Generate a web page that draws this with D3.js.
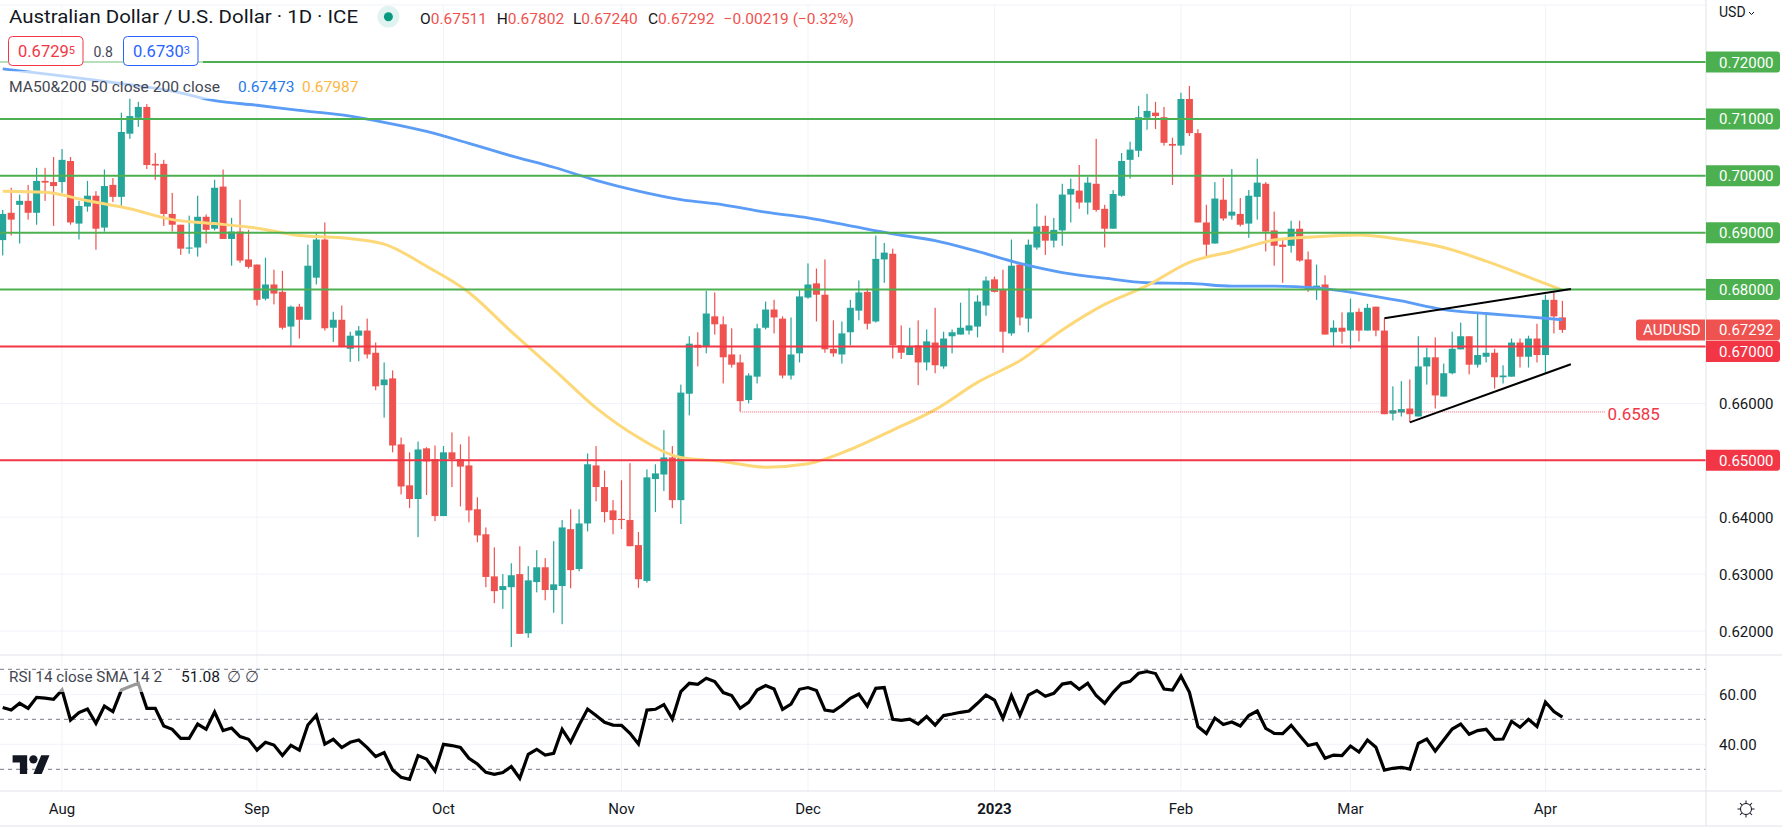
<!DOCTYPE html>
<html>
<head>
<meta charset="utf-8">
<script src="https://cdn.jsdelivr.net/npm/d3@7"></script>
<style>
  html, body { margin: 0; padding: 0; background: #fff; overflow: hidden; }
  text { font-family: Roboto, sans-serif; fill: #131722; }
</style>
</head>
<body>
<svg id="chart"></svg>
<script>
// daily AUDUSD candles, prices in 1/10000
const opens = [6887,6935,6949,6956,6935,6991,6989,6989,7026,6916,
  6946,6965,6909,6984,6963,7074,7102,7121,7021,7021,
  6933,6914,6872,6874,6928,6907,6981,6889,6902,6853,
  6844,6784,6809,6796,6735,6770,6747,6821,6888,6733,
  6747,6696,6719,6728,6689,6632,6644,6528,6456,6432,
  6521,6502,6402,6514,6502,6491,6414,6370,6296,6272,
  6277,6300,6196,6286,6312,6272,6279,6379,6309,6389,
  6491,6453,6412,6397,6395,6351,6288,6467,6475,6505,
  6430,6617,6703,6700,6753,6739,6686,6672,6606,6647,
  6733,6765,6749,6649,6688,6786,6811,6791,6696,6686,
  6725,6763,6796,6744,6853,6863,6702,6685,6702,6672,
  6707,6665,6718,6721,6728,6735,6772,6818,6800,6723,
  6844,6749,6874,6912,6886,6904,6967,6974,6953,6986,
  6942,6907,6965,7028,7044,7102,7111,7103,7056,7053,
  7135,7075,6918,6881,6958,6930,6933,6916,6963,6986,
  6904,6879,6877,6907,6853,6800,6809,6725,6733,6728,
  6761,6728,6770,6728,6582,6584,6591,6577,6665,6681,
  6612,6653,6695,6718,6668,6682,6689,6646,6647,6707,
  6682,6714,6685,6782,6751.1];
const highs = [6940,6979,6967,6984,7014,7014,7033,7047,7033,6956,
  6991,6973,7011,6996,7111,7136,7130,7126,7040,7028,
  6970,6914,6930,6965,6932,6993,7011,6926,6958,6905,
  6844,6856,6835,6833,6772,6775,6879,6899,6918,6761,
  6772,6726,6736,6749,6707,6672,6658,6540,6514,6533,
  6523,6526,6525,6549,6528,6542,6435,6382,6347,6300,
  6319,6349,6314,6342,6328,6358,6395,6414,6414,6512,
  6525,6482,6430,6465,6495,6374,6484,6493,6553,6525,
  6633,6718,6725,6798,6795,6753,6732,6686,6653,6740,
  6779,6782,6753,6751,6800,6846,6837,6853,6746,6744,
  6782,6816,6802,6895,6882,6872,6737,6733,6746,6730,
  6768,6726,6730,6777,6802,6790,6823,6823,6835,6888,
  6847,6888,6951,6930,6926,6986,6995,7019,6998,7065,
  6949,6975,7040,7060,7123,7144,7130,7121,7067,7146,
  7158,7082,6949,6989,6996,7012,6961,6975,7030,6989,
  6937,6889,6921,6921,6867,6844,6825,6746,6760,6784,
  6767,6775,6770,6749,6630,6639,6642,6718,6698,6716,
  6670,6726,6742,6718,6760,6756,6696,6667,6714,6714,
  6719,6740,6791,6795,6780.2];
const lows = [6860,6895,6881,6923,6914,6956,6912,6970,6914,6888,
  6937,6870,6902,6954,6947,7065,7086,7012,6993,6912,
  6902,6861,6863,6858,6881,6904,6889,6842,6847,6837,
  6772,6781,6774,6730,6701,6714,6747,6809,6728,6708,
  6699,6673,6674,6679,6623,6575,6514,6440,6416,6365,
  6439,6393,6402,6453,6419,6391,6356,6277,6249,6239,
  6172,6195,6188,6268,6254,6232,6212,6275,6305,6375,
  6428,6391,6370,6379,6349,6276,6285,6409,6446,6416,
  6388,6579,6665,6688,6721,6635,6663,6586,6600,6635,
  6730,6723,6644,6642,6672,6784,6744,6689,6682,6670,
  6702,6746,6730,6742,6812,6679,6678,6685,6632,6658,
  6653,6661,6688,6721,6721,6716,6754,6795,6689,6719,
  6737,6725,6870,6861,6874,6877,6918,6942,6932,6937,
  6874,6907,6963,6995,7033,7081,7082,7053,6984,7037,
  7070,6918,6856,6881,6921,6923,6911,6891,6923,6867,
  6842,6812,6865,6849,6796,6782,6721,6700,6705,6696,
  6709,6728,6718,6581,6570,6577,6567,6577,6633,6591,
  6612,6651,6695,6651,6663,6672,6626,6635,6647,6663,
  6663,6672,6653,6723,6724];
const closes = [6933,6923,6956,6935,6991,6988,6982,7028,6918,6947,
  6965,6907,6982,6963,7077,7105,7121,7019,7018,6933,
  6914,6872,6874,6928,6905,6979,6889,6902,6851,6840,
  6782,6809,6793,6733,6770,6747,6842,6888,6732,6747,
  6699,6719,6728,6686,6630,6642,6526,6454,6432,6519,
  6498,6402,6514,6502,6489,6412,6368,6295,6270,6279,
  6298,6195,6289,6312,6272,6282,6382,6307,6389,6493,
  6453,6409,6395,6395,6349,6291,6470,6477,6505,6430,
  6619,6705,6698,6758,6739,6681,6668,6604,6649,6732,
  6765,6751,6649,6686,6788,6809,6791,6695,6688,6723,
  6768,6795,6740,6854,6865,6702,6689,6700,6672,6709,
  6667,6714,6725,6733,6737,6779,6816,6796,6726,6842,
  6751,6879,6911,6886,6905,6967,6977,6953,6988,6940,
  6907,6968,7026,7046,7103,7114,7105,7058,7053,7135,
  7075,6918,6879,6960,6925,6937,6914,6965,6988,6902,
  6877,6875,6907,6851,6800,6807,6721,6733,6726,6760,
  6728,6768,6728,6581,6588,6590,6581,6665,6681,6614,
  6653,6696,6718,6668,6685,6689,6646,6649,6707,6682,
  6714,6685,6782,6753,6729.2];

// moving averages, read every 5th bar plus the last one
const maBars = [...d3.range(0, 185, 5), 184];
const ma200 = [7188,7179,7170,7160,7149,7132,7124,7115,7107,7094,7078,7057,7035,7015,6992,
  6973,6958,6949,6936,6926,6912,6898,6886,6867,6846,6830,6820,6812,6811,
  6806,6806,6803,6793,6780,6765,6758,6752,6747];
const ma50 = [6973,6971,6956,6942,6923,6916,6908,6895,6891,6880,6841,6795,6726,6660,6592,
  6540,6505,6498,6488,6494,6519,6553,6589,6637,6675,6729,6774,6807,6848,
  6867,6887,6893,6896,6888,6874,6850,6822,6799];

const rsi = [54.7,53.7,56.4,54.4,58.8,58.5,58.0,61.7,49.7,52.7,54.1,48.4,55.3,53.1,61.7,63.1,64.4,54.4,54.4,47.3,
  46.0,42.4,42.4,48.1,46.0,52.9,45.5,46.5,43.1,42.0,37.7,40.8,39.7,35.5,39.6,37.7,47.7,51.6,40.1,42.0,
  38.7,40.8,41.7,38.7,35.1,36.7,29.7,26.8,26.0,35.5,34.1,29.3,40.0,39.5,38.7,34.4,32.1,28.8,28.0,28.7,
  31.1,26.4,36.0,38.0,35.7,36.4,46.0,40.8,47.7,54.1,51.5,48.8,47.7,47.6,44.4,40.1,53.7,54.0,55.9,50.1,
  61.1,64.4,64.0,66.4,65.1,60.7,59.5,54.4,56.8,61.7,63.5,62.1,54.0,56.1,62.0,62.7,61.5,53.7,53.2,55.5,
  58.4,60.1,55.3,62.4,62.7,50.0,49.6,50.1,48.1,51.1,47.7,51.5,52.1,52.8,53.3,56.4,59.7,57.7,50.4,59.5,
  51.6,59.7,61.5,59.2,60.4,64.1,64.7,62.0,64.4,59.5,56.4,60.8,64.3,65.2,68.4,69.1,68.3,62.1,61.7,67.3,
  60.8,47.1,44.3,50.5,47.9,48.9,47.3,51.5,53.3,46.4,44.4,44.3,47.6,43.5,39.5,40.3,34.4,35.7,35.5,39.3,
  36.9,41.7,38.8,29.7,30.4,30.8,30.1,40.4,42.1,37.3,41.7,46.1,48.1,44.0,45.5,46.0,42.0,42.1,49.2,46.8,
  50.0,47.1,56.9,53.1,50.9];

// axis and level values
const priceTicks = [6200,6300,6400,6500,6600,6700,6800,6900,7000,7100,7200];
const plainPriceLabels = [6200,6300,6400,6600];
const greenLevels = [7200,7100,7000,6900,6800];
const redLevels = [6700,6500];
const rsiDashed = [70,50,30];
const rsiGrid = [60,40];
const monthBars = [7,30,52,73,95,117,139,159,182];
const monthLabels = ['Aug','Sep','Oct','Nov','Dec','2023','Feb','Mar','Apr'];
const supportLevel = 6585;
const lastClose = 6729.2;
const wedgeUpper = [[163,6749.6],[185,6801.2]];
const wedgeLower = [[166,6566.7],[185,6668.9]];

const W = 1782, H = 827;
const axisX = 1706, mainTop = 5, mainBottom = 655, rsiBottom = 791;
const GREEN = '#26a69a', RED = '#ef5350', LVL_GREEN = '#4caf50', LVL_RED = '#f23645';

const svg = d3.select('#chart').attr('width', W).attr('height', H);

const x = d3.scaleLinear().domain([0, 184]).range([2.7, 1562.4]);
const y = d3.scaleLinear().domain([6200, 7200]).range([631, 62]);
const yRsi = d3.scaleLinear().domain([30, 70]).range([769.3, 669.3]);

svg.append('defs').append('clipPath').attr('id', 'mainClip')
  .append('rect').attr('x', 0).attr('y', mainTop).attr('width', axisX).attr('height', mainBottom - mainTop);

// frame and grid
const grid = svg.append('g').attr('stroke', '#f0f3fa').attr('stroke-width', 1);
grid.selectAll('.vg').data(monthBars).enter().append('line')
  .attr('x1', d => x(d)).attr('x2', d => x(d)).attr('y1', mainTop).attr('y2', rsiBottom);
grid.selectAll('.hg').data(priceTicks).enter().append('line')
  .attr('x1', 0).attr('x2', axisX).attr('y1', d => y(d)).attr('y2', d => y(d));
grid.selectAll('.rg').data(rsiGrid).enter().append('line')
  .attr('x1', 0).attr('x2', axisX).attr('y1', d => yRsi(d)).attr('y2', d => yRsi(d));
grid.append('line').attr('x1', 0).attr('x2', axisX).attr('y1', mainTop).attr('y2', mainTop);

const main = svg.append('g').attr('clip-path', 'url(#mainClip)');

// candles
const bars = d3.range(opens.length);
const candle = main.append('g').selectAll('g').data(bars).enter().append('g')
  .attr('fill', i => closes[i] >= opens[i] ? GREEN : RED);
candle.append('rect')
  .attr('x', i => x(i) - 0.6).attr('width', 1.2)
  .attr('y', i => y(highs[i])).attr('height', i => y(lows[i]) - y(highs[i]));
candle.append('rect')
  .attr('x', i => x(i) - 3.5).attr('width', 7)
  .attr('y', i => y(Math.max(opens[i], closes[i])))
  .attr('height', i => Math.max(1, Math.abs(y(opens[i]) - y(closes[i]))));

// moving averages
const maLine = vals => d3.line().curve(d3.curveMonotoneX).x((d, k) => x(maBars[k])).y(d => y(d))(vals);
main.append('path').attr('d', maLine(ma200)).attr('fill', 'none').attr('stroke', '#5b9cf6').attr('stroke-width', 2.8);
main.append('path').attr('d', maLine(ma50)).attr('fill', 'none').attr('stroke', '#fdd878').attr('stroke-width', 3);

// support dots
main.append('line')
  .attr('x1', x(87)).attr('x2', 1605)
  .attr('y1', y(supportLevel)).attr('y2', y(supportLevel))
  .attr('stroke', LVL_RED).attr('stroke-width', 1).attr('stroke-dasharray', '1 1').attr('opacity', 0.75);

// price levels
main.selectAll('.lvl').data(greenLevels.concat(redLevels)).enter().append('line')
  .attr('x1', 0).attr('x2', axisX)
  .attr('y1', d => y(d)).attr('y2', d => y(d))
  .attr('stroke', d => d > 6750 ? LVL_GREEN : LVL_RED).attr('stroke-width', 2);

// wedge
[wedgeUpper, wedgeLower].forEach(seg => {
  main.append('path')
    .attr('d', d3.line().x(d => x(d[0])).y(d => y(d[1]))(seg))
    .attr('fill', 'none').attr('stroke', '#000').attr('stroke-width', 2);
});

svg.append('text').attr('x', 1607.6).attr('y', 420).attr('font-size', 17).style('fill', LVL_RED).text('0.6585');

// rsi pane
const rsiG = svg.append('g');
rsiG.selectAll('line').data(rsiDashed).enter().append('line')
  .attr('x1', 0).attr('x2', axisX).attr('y1', d => yRsi(d)).attr('y2', d => yRsi(d))
  .attr('stroke', '#787b86').attr('stroke-width', 1).attr('stroke-dasharray', '4 4');
rsiG.append('path')
  .attr('d', d3.line().x((d, i) => x(i)).y(d => yRsi(d))(rsi))
  .attr('fill', 'none').attr('stroke', '#000').attr('stroke-width', 3.2).attr('stroke-linejoin', 'miter');

// pane borders
const border = svg.append('g').attr('stroke', '#e0e3eb').attr('stroke-width', 1);
border.append('line').attr('x1', 0).attr('x2', W).attr('y1', mainBottom).attr('y2', mainBottom);
border.append('line').attr('x1', 0).attr('x2', W).attr('y1', rsiBottom).attr('y2', rsiBottom);
border.append('line').attr('x1', 0).attr('x2', W).attr('y1', 826).attr('y2', 826);
border.append('line').attr('x1', axisX).attr('x2', axisX).attr('y1', 0).attr('y2', 826);

// right axis labels
const badge = (cy, fill, label) => {
  svg.append('path')
    .attr('d', `M${axisX} ${cy - 10.5}H1777a3 3 0 0 1 3 3V${cy + 7.5}a3 3 0 0 1 -3 3H${axisX}Z`)
    .attr('fill', fill);
  svg.append('text').attr('x', 1719).attr('y', cy + 5.5).attr('font-size', 15).style('fill', '#fff').text(label);
};
const fmt = d3.format('.5f');
greenLevels.forEach(d => badge(y(d), LVL_GREEN, fmt(d / 1e4)));
badge(y(6500), LVL_RED, fmt(0.65));
badge(351.5, LVL_RED, fmt(0.67));
badge(y(lastClose), RED, fmt(0.67292));
svg.append('path').attr('d', `M1639 ${y(lastClose) - 10.5}H1705V${y(lastClose) + 10.5}H1639a3 3 0 0 1 -3 -3V${y(lastClose) - 7.5}a3 3 0 0 1 3 -3Z`).attr('fill', RED);
svg.append('text').attr('x', 1643).attr('y', y(lastClose) + 5.5).attr('font-size', 15).style('fill', '#fff').text('AUDUSD');

svg.selectAll('.pl').data(plainPriceLabels).enter().append('text')
  .attr('x', 1719).attr('y', d => y(d) + 5.5).attr('font-size', 15).text(d => fmt(d / 1e4));

rsiGrid.forEach(d => {
  svg.append('text').attr('x', 1719).attr('y', yRsi(d) + 5.5).attr('font-size', 15).text(d3.format('.2f')(d));
});

svg.append('text').attr('x', 1719).attr('y', 17).attr('font-size', 14).text('USD');
svg.append('path').attr('d', 'M1749 12l2.5 2.5l2.5 -2.5').attr('fill', 'none').attr('stroke', '#131722');

// time axis
svg.selectAll('.month').data(monthBars).enter().append('text')
  .attr('x', d => x(d)).attr('y', 814).attr('text-anchor', 'middle').attr('font-size', 15)
  .attr('font-weight', (d, i) => monthLabels[i] === '2023' ? 700 : 400)
  .text((d, i) => monthLabels[i]);

// legend backdrops
const backdrop = (bx, by, bw, bh) => svg.append('rect')
  .attr('x', bx).attr('y', by).attr('width', bw).attr('height', bh).attr('fill', '#fff').attr('opacity', 0.6);
backdrop(0, 35, 203, 32);
backdrop(0, 71, 220, 28);
backdrop(0, 670, 166, 22);

// header
svg.append('text').attr('x', 9).attr('y', 23).attr('font-size', 18)
  .attr('textLength', 349).attr('lengthAdjust', 'spacingAndGlyphs')
  .text('Australian Dollar / U.S. Dollar · 1D · ICE');
svg.append('circle').attr('cx', 388.4).attr('cy', 16.7).attr('r', 11).attr('fill', '#089981').attr('opacity', 0.12);
svg.append('circle').attr('cx', 388.4).attr('cy', 16.7).attr('r', 4.5).attr('fill', '#089981');

const ohlc = [['O', '0.67511', 420], ['H', '0.67802', 496.7], ['L', '0.67240', 573], ['C', '0.67292', 648]];
ohlc.forEach(([k, v, px]) => {
  const t = svg.append('text').attr('x', px).attr('y', 24).attr('font-size', 15.5);
  t.append('tspan').text(k);
  t.append('tspan').style('fill', RED).text(v);
});
svg.append('text').attr('x', 723.6).attr('y', 24).attr('font-size', 15.5).style('fill', RED).text('−0.00219 (−0.32%)');

// bid / ask boxes
const quoteBox = (bx, color, main5, small) => {
  svg.append('rect').attr('x', bx).attr('y', 36.5).attr('width', 74.5).attr('height', 29).attr('rx', 4)
    .attr('fill', '#fff').attr('stroke', color).attr('stroke-width', 1);
  const t = svg.append('text').attr('x', bx + 9.5).attr('y', 57).attr('font-size', 16.5).style('fill', color);
  t.append('tspan').text(main5);
  t.append('tspan').attr('font-size', 11).attr('dy', -3).text(small);
};
quoteBox(8.5, LVL_RED, '0.6729', '5');
quoteBox(123.5, '#2962ff', '0.6730', '3');
svg.append('text').attr('x', 93.5).attr('y', 57).attr('font-size', 14).style('fill', '#434651').text('0.8');

// indicator legends
svg.append('text').attr('x', 9).attr('y', 92).attr('font-size', 15.5).style('fill', '#434651')
  .attr('textLength', 211).attr('lengthAdjust', 'spacingAndGlyphs').text('MA50&200 50 close 200 close');
svg.append('text').attr('x', 238).attr('y', 92).attr('font-size', 15.5).style('fill', '#2979e8').text('0.67473');
svg.append('text').attr('x', 302).attr('y', 92).attr('font-size', 15.5).style('fill', '#fbb73f').text('0.67987');
svg.append('text').attr('x', 9).attr('y', 682).attr('font-size', 15.5).style('fill', '#434651')
  .attr('textLength', 153).attr('lengthAdjust', 'spacingAndGlyphs').text('RSI 14 close SMA 14 2');
svg.append('text').attr('x', 181).attr('y', 682).attr('font-size', 15.5).text('51.08');
svg.append('text').attr('x', 227).attr('y', 682).attr('font-size', 16).style('fill', '#434651').text('∅');
svg.append('text').attr('x', 245).attr('y', 682).attr('font-size', 16).style('fill', '#434651').text('∅');

// tradingview mark
const logo = svg.append('g').attr('transform', 'translate(12.6,751) scale(1.04)').attr('fill', '#131722');
logo.append('path').attr('d', 'M14 22H7V11H0V4h14v18zM28 22h-8l7.5-18h8L28 22z');
logo.append('circle').attr('cx', 20).attr('cy', 8).attr('r', 4);

// settings icon
const gear = svg.append('g').attr('transform', 'translate(1746,809)').attr('stroke', '#131722').attr('fill', 'none');
gear.append('circle').attr('r', 5.5);
gear.selectAll('line').data(d3.range(0, 360, 45)).enter().append('line')
  .attr('x1', 0).attr('x2', 0).attr('y1', -5.5).attr('y2', -8.5)
  .attr('transform', d => `rotate(${d})`);
</script>
</body>
</html>
